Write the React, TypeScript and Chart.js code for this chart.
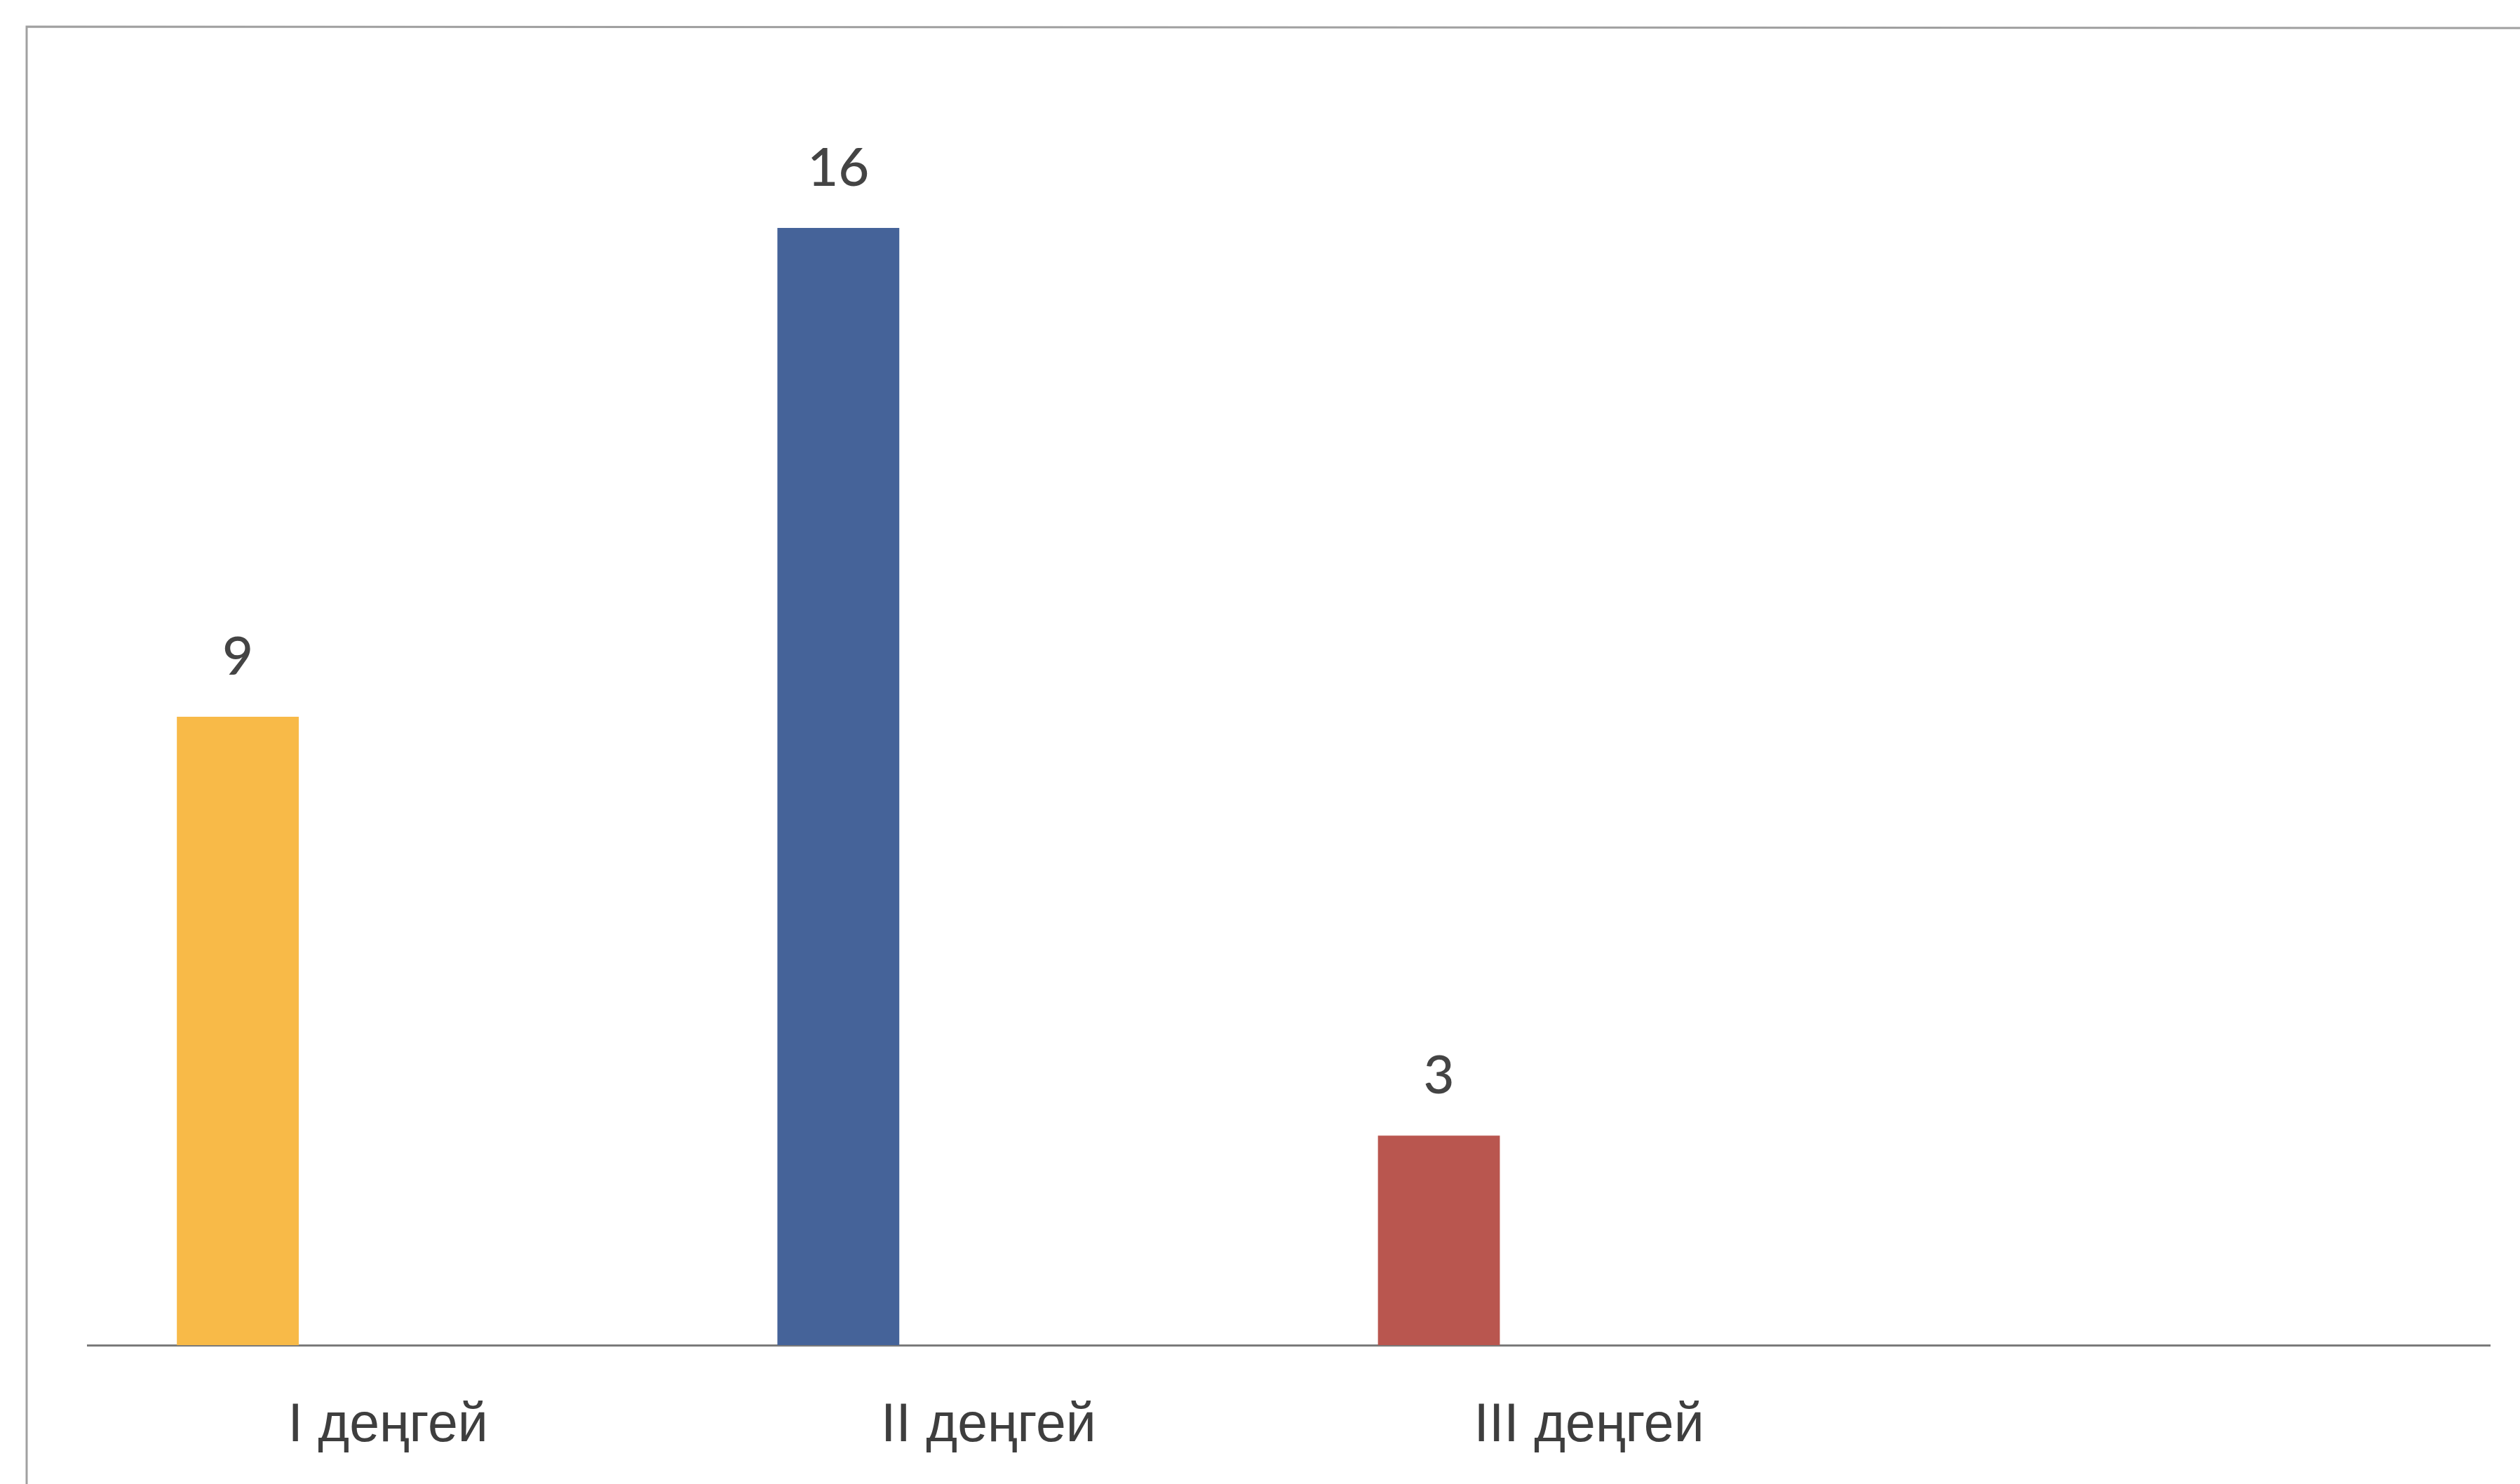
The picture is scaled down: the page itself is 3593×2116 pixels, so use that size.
import React, { useEffect, useRef } from "react";
import { Chart, registerables } from "chart.js";

Chart.register(...registerables);

const categories = ["I деңгей", "II деңгей", "III деңгей", ""];
const values = [9, 16, 3, null];
const emptySeries = [null, null, null, null];
const barColors = ["#F8BA48", "#456399", "#B9564F", "#888888"];
const yMin = 0;
const yMax = 18;

const W = 3593;
const H = 2116;

const framePlugin = {
  id: "frame",
  beforeDraw(chart: any) {
    const ctx = chart.ctx;
    ctx.save();
    ctx.strokeStyle = "#a0a0a0";
    ctx.lineWidth = 3;
    ctx.beginPath();
    ctx.moveTo(38, H);
    ctx.lineTo(38, 38);
    ctx.lineTo(W, 40);
    ctx.stroke();
    ctx.restore();
  },
};

const valueLabelPlugin = {
  id: "valueLabels",
  afterDatasetsDraw(chart: any) {
    const ctx = chart.ctx;
    const meta = chart.getDatasetMeta(0);
    ctx.save();
    ctx.fillStyle = "#444444";
    ctx.font = "500 76px Lato, 'Noto Sans', sans-serif";
    ctx.textAlign = "center";
    ctx.textBaseline = "alphabetic";
    meta.data.forEach((el: any, i: number) => {
      const v = values[i];
      if (v === null || v === undefined) return;
      ctx.fillText(String(v), el.x, el.y - 60);
    });
    ctx.restore();
  },
};

export default function App() {
  const ref = useRef<HTMLCanvasElement>(null);
  useEffect(() => {
    if (!ref.current) return;
    const chart = new Chart(ref.current, {
      type: "bar",
      data: {
        labels: categories,
        datasets: [
          {
            data: values as any,
            backgroundColor: barColors,
            barPercentage: 0.406,
            categoryPercentage: 1,
          },
          {
            data: emptySeries as any,
            backgroundColor: "#ffffff",
            barPercentage: 0.406,
            categoryPercentage: 1,
          },
        ],
      },
      options: {
        animation: false,
        responsive: false,
        maintainAspectRatio: false,
        layout: { padding: { left: 125, right: 43, top: 126, bottom: 0 } },
        plugins: {
          legend: { display: false },
          tooltip: { enabled: false },
          title: { display: false },
        },
        scales: {
          x: {
            grid: { display: false, drawTicks: false },
            border: { display: true, color: "#7a7a7a", width: 3 },
            ticks: {
              color: "#3e3e3e",
              font: { family: "'Liberation Sans', Arial, sans-serif", size: 77 },
              padding: 70,
              maxRotation: 0,
              autoSkip: false,
            },
            afterFit: (scale: any) => {
              scale.height = H - 1918;
            },
          },
          y: {
            display: false,
            min: yMin,
            max: yMax,
          },
        },
      },
      plugins: [framePlugin, valueLabelPlugin],
    });
    return () => chart.destroy();
  }, []);
  return (
    <div style={{ position: "absolute", left: 0, top: 0, width: W, height: H, background: "#fff" }}>
      <canvas ref={ref} width={W} height={H} style={{ width: W, height: H, display: "block" }} />
    </div>
  );
}
